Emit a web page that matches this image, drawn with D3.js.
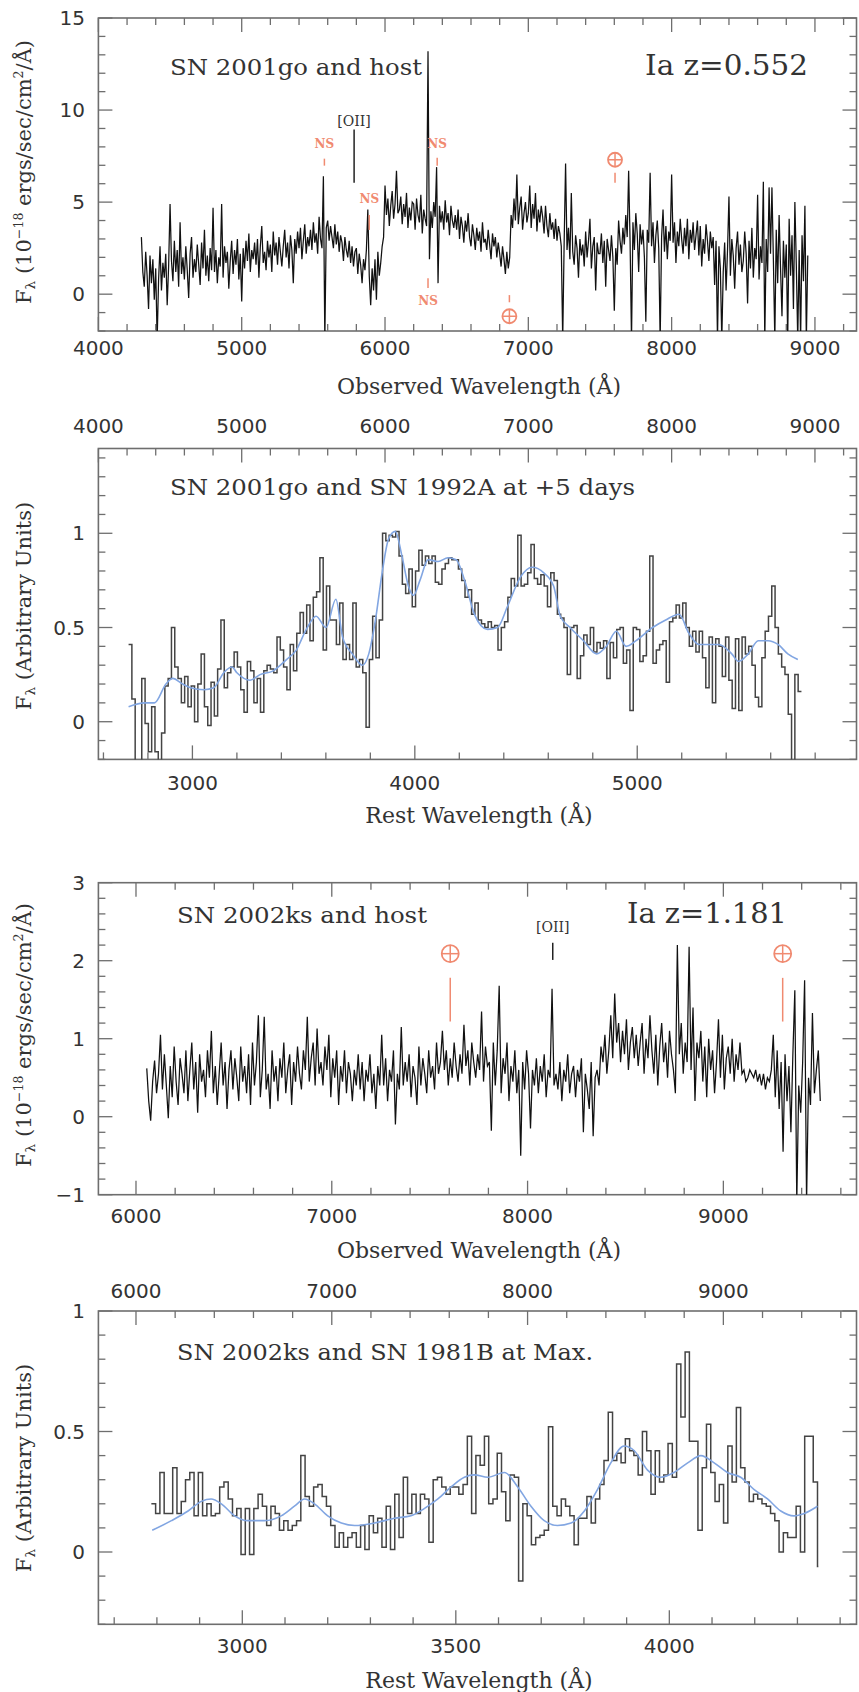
<!DOCTYPE html>
<html>
<head>
<meta charset="utf-8">
<script src="https://cdn.jsdelivr.net/npm/d3@7"></script>
<style>
  body { margin: 0; background: #fff; }
  svg text { fill: #333; }
</style>
</head>
<body>
<div id="chart"></div>
<script>
// ---------- data ----------

// panel 1: SN 2001go + host, observed frame, 10 A grid from 4300 A
const p1Start = 4300, p1Step = 10;
const p1Flux = [
  3.1, 1.2, 0.4, 2.3, 1.0, -0.8, 2.1, 0.6, 1.9, -0.3,
  1.4, -2.5, 0.8, 2.6, 0.2, 1.7, 0.9, 2.2, -0.6, 1.5,
  4.9, 1.8, 0.7, 2.9, 1.2, 2.4, 0.4, 3.9, 1.1, 2.0,
  0.8, 2.6, 1.3, -0.2, 2.2, 3.1, 0.9, 1.9, 1.2, 2.7,
  1.6, 0.5, 2.8, 1.4, 3.5, 1.0, 2.1, 0.7, 2.5, 1.3,
  4.7, 1.2, 2.4, 0.6, 2.0, 1.5, 4.9, 0.9, 2.6, 1.7,
  2.3, 0.3, 1.8, 2.9, 1.1, 2.4, 1.6, 3.0, 0.8, 2.2,
  -0.4, 2.5, 1.4, 2.9, 1.8, 3.3, 1.2, 2.4, 1.9, 2.8,
  1.6, 3.0, 0.9, 2.6, 3.7, 1.7, 2.3, 1.3, 2.9, 2.0,
  2.7, 1.2, 3.4, 2.1, 2.8, 1.6, 3.1, 2.3, 1.5, 2.6,
  3.5, 2.0, 2.8, 1.4, 3.2, 2.4, 0.6, 3.0, 2.2, 3.4,
  2.5, 3.6, 1.9, 2.9, 3.8, 2.2, 3.1, 2.6, 3.5, 2.4,
  3.9, 2.8, 3.3, 2.2, 4.2, 3.0, 2.5, 6.4, -2.5, 3.6,
  4.0, 2.9, 3.7, 3.1, 2.5, 3.8, 2.7, 3.4, 2.3, 3.2,
  2.8, 1.8, 3.1, 2.4, 2.0, 2.9, 1.7, 2.6, 1.5, 2.3,
  2.5, 1.1, 2.2, 1.6, 0.6, 1.9, 1.3, 2.4, 4.6, 1.0,
  -0.6, 1.4, 0.2, 1.9, -0.3, 2.3, 1.0, 1.7, 2.6, 3.1,
  5.9, 4.3, 5.2, 3.7, 4.8, 5.6, 4.1, 4.9, 6.7, 4.4,
  4.6, 5.3, 3.8, 4.9, 4.2, 5.5, 3.6, 4.7, 4.0, 5.0,
  4.9, 3.5, 5.2, 4.3, 3.9, 5.4, 3.3, 4.6, 4.1, 3.7,
  13.2, 1.9, 4.5, 3.6, 5.0, 4.2, 6.9, 0.6, 4.8, 3.9,
  4.5, 3.5, 5.1, 3.9, 4.4, 3.2, 4.8, 4.0, 3.6, 4.3,
  3.5, 4.6, 3.0, 4.2, 3.7, 2.8, 4.0, 3.4, 4.4, 3.1,
  2.6, 3.8, 3.2, 2.4, 3.6, 2.9, 3.4, 2.3, 3.9, 2.8,
  3.0, 2.4, 3.5, 2.7, 1.9, 3.3, 2.6, 3.1, 2.0, 2.8,
  2.2, 1.5, 2.6, 1.9, 1.1, 2.3, 1.4, 2.0, 4.3, 3.6,
  5.2, 4.0, 6.5, 3.8, 4.7, 5.3, 3.5, 4.4, 5.0, 3.9,
  4.4, 5.9, 3.6, 4.9, 4.1, 5.5, 3.4, 4.6, 3.9, 4.8,
  4.2, 3.3, 4.8, 3.7, 3.1, 4.4, 3.5, 3.9, 3.0, 4.1,
  2.9, 3.7, 3.3, 2.6, -2.5, 2.8, 7.1, 2.4, 3.6, 1.9,
  5.5, 2.3, 1.6, 3.2, 2.5, 0.9, 3.0, 2.1, 2.7, 1.5,
  3.4, 2.0, 2.9, 4.1, 1.4, 2.6, 3.1, 0.2, 2.8, 2.2,
  2.2, 3.3, 1.7, 2.9, 0.4, 3.0, 2.4, 1.8, 3.2, 2.0,
  -0.9, 2.5, 1.6, 4.0, 2.9, 2.2, 3.6, 2.7, 4.3, 3.1,
  6.7, 2.9, -2.5, 3.9, 2.4, 4.4, 3.3, 1.2, 3.8, 2.7,
  3.5, 2.0, -1.5, 3.5, 2.8, 6.6, 2.6, 3.9, 1.7, 3.2,
  4.0, 2.5, -2.5, 3.1, 4.6, 2.3, 3.7, 1.9, 3.4, 2.9,
  6.5, 2.8, 3.9, 1.7, 3.4, 2.6, 4.1, 3.0, 2.2, 3.6,
  2.6, 4.1, 1.9, 3.5, 2.8, 3.9, 2.4, 3.2, 4.0, 2.1,
  3.7, 1.5, 3.0, 2.2, 3.8, 2.9, 1.8, 3.4, 2.5, 3.1,
  0.5, 2.9, -2.5, 2.6, 1.4, -2.5, 1.2, 2.8, 0.2, 2.4,
  5.3, 1.0, 3.0, 2.1, 0.3, 2.5, 3.4, 1.6, 2.7, 1.2,
  1.8, 3.4, 2.2, -0.5, 2.9, 1.4, 3.6, 0.9, 2.5, 1.9,
  5.4, 0.8, 2.6, 1.7, 6.1, -2.5, 3.0, 1.2, 5.8, 2.2,
  5.8, 1.9, -2.5, 3.5, 0.6, 4.3, 1.4, -1.2, 2.9, 0.9,
  2.7, -2.5, 4.1, 1.0, 3.2, -0.8, 5.0, 1.6, -2.5, 2.4,
  -2.5, 3.2, 0.7, 4.8, -2.5, 2.1
];

// panel 2: binned SN 2001go (rest frame) and SN 1992A template
const p2BinStart = 2713, p2BinWidth = 14.83;
const p2Flux = [
  0.41, 0.12, -0.25, -0.25, 0.23, -0.01, -0.16, 0.08, -0.16, -0.25,
  -0.06, 0.19, 0.23, 0.50, 0.29, 0.23, 0.10, 0.24, 0.08, 0.19,
  0.00, 0.20, 0.36, 0.08, -0.02, 0.21, 0.03, 0.28, 0.54, 0.18,
  0.26, 0.29, 0.37, 0.29, 0.17, 0.05, 0.32, 0.27, 0.10, 0.23,
  0.05, 0.27, 0.30, 0.28, 0.26, 0.45, 0.38, 0.29, 0.17, 0.41,
  0.27, 0.47, 0.58, 0.47, 0.62, 0.43, 0.66, 0.69, 0.87, 0.38,
  0.72, 0.54, 0.54, 0.41, 0.63, 0.33, 0.41, 0.33, 0.63, 0.29,
  0.33, 0.26, -0.03, 0.33, 0.56, 0.34, 0.54, 1.00, 0.96, 0.99,
  0.98, 1.01, 0.88, 0.73, 0.68, 0.81, 0.61, 0.80, 0.91, 0.83,
  0.88, 0.84, 0.88, 0.74, 0.73, 0.81, 0.84, 0.87, 0.86, 0.86,
  0.81, 0.75, 0.66, 0.70, 0.57, 0.63, 0.54, 0.52, 0.50,
  0.53, 0.50, 0.51, 0.38, 0.50, 0.53, 0.66, 0.76, 0.72, 0.99,
  0.72, 0.73, 0.79, 0.94, 0.76, 0.73, 0.78, 0.72, 0.61, 0.79,
  0.75, 0.57, 0.55, 0.50, 0.25, 0.50, 0.51, 0.23, 0.35, 0.46,
  0.41, 0.50, 0.37, 0.42, 0.39, 0.43, 0.23, 0.42, 0.34, 0.49,
  0.50, 0.31, 0.38, 0.06, 0.50, 0.49, 0.32, 0.35, 0.48, 0.88,
  0.31, 0.38, 0.41, 0.43, 0.21, 0.53, 0.55, 0.62, 0.55, 0.63,
  0.50, 0.40, 0.48, 0.37, 0.48, 0.34, 0.18, 0.45, 0.10, 0.44,
  0.40, 0.24, 0.45, 0.22, 0.07, 0.44, 0.06, 0.45, 0.36, 0.40,
  0.30, 0.13, 0.08, 0.34, 0.48, 0.56, 0.72, 0.50, 0.36, 0.29,
  0.25, 0.04, -0.25, 0.25, 0.16
];
const p2TmplRest = [2713, 2785, 2829, 2881, 2911, 2956, 2992, 3052, 3096, 3141,
  3178, 3200, 3259, 3304, 3363, 3423, 3467, 3512, 3556, 3601, 3645, 3675, 3719,
  3764, 3793, 3823, 3853, 3882, 3912, 3942, 3971, 3994, 4023, 4060, 4105, 4149,
  4186, 4224, 4268, 4327, 4372, 4416, 4476, 4528, 4580, 4624, 4654, 4698, 4758,
  4817, 4861, 4906, 4950, 4995, 5069, 5128, 5188, 5232, 5277, 5366, 5425, 5455,
  5499, 5544, 5588, 5633, 5677, 5722];
const p2TmplFlux = [0.08, 0.10, 0.10, 0.20, 0.23, 0.20, 0.18, 0.17, 0.18, 0.26,
  0.29, 0.26, 0.22, 0.25, 0.27, 0.33, 0.38, 0.49, 0.56, 0.50, 0.65, 0.45, 0.36,
  0.30, 0.36, 0.54, 0.79, 0.97, 1.01, 0.88, 0.72, 0.67, 0.75, 0.86, 0.85, 0.87,
  0.86, 0.75, 0.57, 0.49, 0.50, 0.61, 0.77, 0.82, 0.79, 0.72, 0.56, 0.50, 0.43,
  0.36, 0.40, 0.48, 0.40, 0.43, 0.50, 0.54, 0.57, 0.47, 0.41, 0.41, 0.36, 0.32,
  0.36, 0.43, 0.43, 0.41, 0.36, 0.33];

// panel 3: SN 2002ks + host, observed frame, 10 A grid from 6055 A
const p3Start = 6055, p3Step = 10;
const p3Flux = [
  0.62, 0.20, -0.05, 0.45, 0.72, 0.30, 0.55, 1.05, 0.35, 0.80,
  0.40, -0.02, 0.65, 0.25, 0.90, 0.45, 0.15, 0.75, 0.55, 0.30,
  0.85, 0.20, 0.60, 0.95, 0.35, 0.70, 0.05, 0.80, 0.45, 0.60,
  0.25, 0.85, 0.50, 1.10, 0.30, 0.65, 0.15, 0.55, 0.95, 0.40,
  0.70, 0.10, 0.60, 0.85, 0.35, 0.75, 0.50, 0.20, 0.90, 0.45,
  0.65, 0.30, 0.80, 0.15, 0.95, 0.40, 0.70, 1.30, 0.25, 0.60,
  1.28, 0.35, 0.55, 0.10, 0.85, 0.45, 0.65, 0.20, 0.75, 0.50,
  0.95, 0.30, 0.60, 0.80, 0.15, 0.70, 0.45, 0.90, 0.55, 0.35,
  0.85, 0.60, 1.28, 0.45, 0.75, 0.95, 0.40, 1.13, 0.55, 0.70,
  0.40, 0.90, 0.60, 1.05, 0.25, 0.75, 0.50, 0.85, 0.15, 0.65,
  0.45, 0.85, 0.30, 0.70, 0.55, 0.20, 0.60, 0.40, 0.80, 0.35,
  0.70, 0.20, 0.60, 0.45, 0.80, 0.30, 0.55, 0.10, 0.65, 0.40,
  1.05, 0.40, 0.75, 0.20, 0.60, 0.45, 0.85, -0.10, 0.55, 0.35,
  1.15, 0.40, 0.70, 0.45, 0.80, 0.25, 0.65, 0.50, 0.15, 0.90,
  0.40, 0.75, 0.55, 0.30, 0.85, 0.50, 0.65, 0.35, 0.95, 0.55,
  0.70, 1.10, 0.60, 0.85, 0.40, 0.75, 0.50, 0.95, 0.65, 0.45,
  0.80, 0.55, 1.18, 0.65, 0.85, 0.40, 0.95, 0.70, 0.50, 0.80,
  0.60, 1.35, 0.45, 0.90, 0.65, 0.70, -0.18, 0.95, 0.40, 0.85,
  1.68, 0.30, 0.75, 0.55, 0.95, 0.20, 0.65, 0.45, 0.85, 0.30,
  0.60, -0.50, 0.70, 0.35, 0.85, 0.55, -0.15, 0.60, 0.40, 0.75,
  0.30, 0.65, 0.45, 0.80, 0.25, 0.60, 0.50, 1.64, 0.40, 0.55,
  0.35, 0.70, 0.20, 0.60, 0.45, 0.80, 0.30, 0.55, 0.65, 0.25,
  0.60, 0.45, 0.75, -0.20, 0.55, 0.35, 0.10, 0.70, -0.25, 0.50,
  0.60, 0.40, 0.90, 0.70, 1.05, 0.55, 0.85, 1.30, 0.75, 1.58,
  0.95, 1.20, 0.70, 1.10, 0.80, 1.25, 0.60, 0.95, 1.15, 0.75,
  1.05, 0.65, 0.95, 1.20, 0.55, 1.00, 0.75, 1.30, 0.85, 0.55,
  1.05, 0.40, 0.90, 1.20, 0.70, 0.95, 0.50, 1.10, 0.80, 0.60,
  0.30, 2.20, 0.80, 1.20, 0.55, 0.95, 0.70, 2.18, 0.60, 1.40,
  0.20, 0.95, 0.75, 1.10, 0.45, 0.90, 0.25, 1.00, 0.60, 0.85,
  0.30, 0.70, 1.25, 0.50, 1.05, 0.35, 0.75, 0.90, 0.55, 1.00,
  0.45, 0.80, 0.60, 0.95, 0.55, 0.60, 0.45, 0.50, 0.60, 0.55,
  0.50, 0.60, 0.45, 0.55, 0.40, 0.55, 0.35, 0.50, 0.45, 0.60,
  1.05, 0.25, 0.85, 0.10, 0.70, -0.45, 0.80, 0.20, 0.65, -0.20,
  0.80, 1.62, -1.10, 0.40, 0.05, 0.70, 1.75, -1.10, 0.50, 0.15,
  1.33, 0.30, 0.60, 0.85, 0.20
];

// panel 4: binned SN 2002ks (rest frame) and SN 1981B template
const p4BinStart = 2787, p4BinWidth = 10;
const p4Flux = [
  0.20, 0.16, 0.33, 0.16, 0.16, 0.35, 0.16, 0.21, 0.30, 0.33,
  0.15, 0.33, 0.15, 0.20, 0.15, 0.16, 0.27, 0.29, 0.22, 0.15,
  0.18, -0.01, 0.18, -0.01, 0.18, 0.24, 0.19, 0.11, 0.19, 0.16,
  0.09, 0.13, 0.09, 0.11, 0.13, 0.40, 0.23, 0.19, 0.27, 0.28,
  0.23, 0.19, 0.11, 0.02, 0.08, 0.02, 0.06, 0.08, 0.02, 0.11,
  0.01, 0.15, 0.08, 0.14, 0.02, 0.19, 0.01, 0.24, 0.06, 0.31,
  0.16, 0.24, 0.16, 0.24, 0.22, 0.04, 0.30, 0.31, 0.27, 0.24,
  0.27, 0.27, 0.24, 0.28, 0.48, 0.16, 0.40, 0.36, 0.48,
  0.20, 0.22, 0.41, 0.25, 0.13, 0.32, 0.31, -0.12, 0.20, 0.15,
  0.03, 0.06, 0.07, 0.09, 0.52, 0.19, 0.15, 0.22, 0.19, 0.15,
  0.03, 0.14, 0.14, 0.23, 0.12, 0.22, 0.28, 0.38, 0.58, 0.38,
  0.41, 0.37, 0.47, 0.42, 0.40, 0.32, 0.50, 0.42, 0.24, 0.42,
  0.29, 0.32, 0.45, 0.31, 0.78, 0.56, 0.83, 0.46, 0.46, 0.09,
  0.35, 0.53, 0.33, 0.21, 0.28, 0.12, 0.44, 0.29, 0.60, 0.35,
  0.29, 0.21, 0.24, 0.22, 0.20, 0.19, 0.16, 0.13, 0.00, 0.08,
  0.06, 0.06, 0.19, 0.00, 0.48, 0.48, 0.29, -0.06
];
const p4TmplRest = [2789, 2834, 2873, 2904, 2927, 2951, 2982, 3013, 3052, 3091,
  3122, 3146, 3169, 3200, 3232, 3263, 3309, 3356, 3395, 3426, 3458, 3489, 3520,
  3543, 3575, 3614, 3645, 3676, 3707, 3738, 3770, 3801, 3832, 3863, 3894, 3918,
  3949, 3980, 4011, 4043, 4074, 4105, 4136, 4167, 4198, 4230, 4261, 4292, 4316, 4347];
const p4TmplFlux = [0.09, 0.13, 0.17, 0.21, 0.22, 0.20, 0.15, 0.13, 0.13, 0.15,
  0.19, 0.22, 0.20, 0.15, 0.12, 0.11, 0.12, 0.14, 0.15, 0.18, 0.22, 0.27, 0.31,
  0.32, 0.31, 0.33, 0.27, 0.19, 0.13, 0.11, 0.12, 0.17, 0.26, 0.37, 0.44, 0.42,
  0.34, 0.31, 0.33, 0.37, 0.40, 0.37, 0.33, 0.31, 0.26, 0.22, 0.17, 0.15, 0.16, 0.19];

// tick labels
const p1XLabels = [4000, 5000, 6000, 7000, 8000, 9000];
const p1YLabels = [0, 5, 10, 15];
const p2YLabels = [0, 0.5, 1];
const p2RestLabels = [3000, 4000, 5000];
const p3XLabels = [6000, 7000, 8000, 9000];
const p3YLabels = [-1, 0, 1, 2, 3];
const p4YLabels = [0, 0.5, 1];
const p4RestLabels = [3000, 3500, 4000];

const z1 = 0.552, z2 = 1.181;

// ---------- drawing ----------
const svg = d3.select("#chart").append("svg")
    .attr("width", 859)
    .attr("height", 1692);

const frameLeft = 98.4, frameRight = 856.5;
const frameColor = "#6e6e6e";
const red = "#f08a70";
const blue = "#82a6e2";
const tickFont = "DejaVu Sans";
const textFont = "DejaVu Serif";

function fmt(v) { return String(v).replace("-", "\u2212"); }

function isMult(v, step) {
    return Math.abs(v / step - Math.round(v / step)) < 1e-6;
}

// ticks inside the frame; dir = +1 hangs down from the top edge, -1 rises from the bottom edge
function xTicks(g, scale, y, dir, minor, major) {
    let [d0, d1] = scale.domain();
    let vals = d3.range(Math.ceil(d0 / minor) * minor, d1, minor);
    g.selectAll(null).data(vals).enter().append("line")
        .attr("x1", d => scale(d)).attr("x2", d => scale(d))
        .attr("y1", y)
        .attr("y2", d => y + dir * (isMult(d, major) ? 14 : 7))
        .attr("stroke", frameColor).attr("stroke-width", 1.3);
}

function yTicks(g, scale, x, dir, minor, major) {
    let [d0, d1] = scale.domain();
    let vals = d3.range(Math.ceil(d0 / minor - 1e-9) * minor, d1 + 1e-9, minor);
    g.selectAll(null).data(vals).enter().append("line")
        .attr("y1", d => scale(d)).attr("y2", d => scale(d))
        .attr("x1", x)
        .attr("x2", d => x + dir * (isMult(d, major) ? 14 : 7))
        .attr("stroke", frameColor).attr("stroke-width", 1.3);
}

function makePanel(cfg) {
    let g = svg.append("g");
    let x = d3.scaleLinear().domain(cfg.obsDomain).range([frameLeft, frameRight]);
    let y = d3.scaleLinear().domain(cfg.yDomain).range([cfg.bottom, cfg.top]);

    g.append("clipPath").attr("id", cfg.id)
        .append("rect")
        .attr("x", frameLeft).attr("y", cfg.top)
        .attr("width", frameRight - frameLeft).attr("height", cfg.bottom - cfg.top);

    g.append("rect")
        .attr("x", frameLeft).attr("y", cfg.top)
        .attr("width", frameRight - frameLeft).attr("height", cfg.bottom - cfg.top)
        .attr("fill", "none").attr("stroke", frameColor).attr("stroke-width", 1.6);

    yTicks(g, y, frameLeft, 1, cfg.yMinor, cfg.yMajor);
    yTicks(g, y, frameRight, -1, cfg.yMinor, cfg.yMajor);

    g.selectAll(null).data(cfg.yLabels).enter().append("text")
        .attr("x", 85).attr("y", d => y(d) + 7)
        .attr("text-anchor", "end")
        .style("font-family", tickFont).style("font-size", "20px")
        .text(fmt);

    return { g, x, y };
}

function yLabel(g, cx, cy, parts, size) {
    let t = g.append("text")
        .attr("transform", `translate(${cx},${cy}) rotate(-90)`)
        .attr("text-anchor", "middle")
        .style("font-family", textFont).style("font-size", size + "px");
    parts.forEach(p => {
        let s = t.append("tspan").text(p.t);
        if (p.sub) s.attr("dy", 4).style("font-size", (size * 0.65) + "px");
        if (p.sup) s.attr("dy", -8).style("font-size", (size * 0.6) + "px");
        if (p.back) s.attr("dy", p.back);
    });
}

function axisTitle(g, cx, y, txt) {
    g.append("text").attr("x", cx).attr("y", y)
        .attr("text-anchor", "middle")
        .style("font-family", textFont).style("font-size", "22px")
        .text(txt);
}

function note(g, x0, y0, txt, size, len) {
    g.append("text").attr("x", x0).attr("y", y0)
        .attr("textLength", len).attr("lengthAdjust", "spacingAndGlyphs")
        .style("font-family", textFont).style("font-size", size + "px")
        .text(txt);
}

function xLabels(g, scale, vals, y) {
    g.selectAll(null).data(vals).enter().append("text")
        .attr("x", d => scale(d)).attr("y", y)
        .attr("text-anchor", "middle")
        .style("font-family", tickFont).style("font-size", "20px")
        .text(fmt);
}

function earth(g, cx, cy, r) {
    g.append("circle").attr("cx", cx).attr("cy", cy).attr("r", r)
        .attr("fill", "none").attr("stroke", red).attr("stroke-width", 1.8);
    g.append("line").attr("x1", cx - r).attr("x2", cx + r).attr("y1", cy).attr("y2", cy)
        .attr("stroke", red).attr("stroke-width", 1.5);
    g.append("line").attr("x1", cx).attr("x2", cx).attr("y1", cy - r).attr("y2", cy + r)
        .attr("stroke", red).attr("stroke-width", 1.5);
}

function marker(g, x, y0, y1, color) {
    g.append("line").attr("x1", x).attr("x2", x).attr("y1", y0).attr("y2", y1)
        .attr("stroke", color).attr("stroke-width", 1.5);
}

const fluxLabel = [
    { t: "F" }, { t: "\u03bb", sub: true }, { t: " (10", back: -4 },
    { t: "\u221218", sup: true }, { t: " ergs/sec/cm", back: 8 },
    { t: "2", sup: true }, { t: "/\u00c5)", back: 8 }
];
const arbLabel = [{ t: "F" }, { t: "\u03bb", sub: true }, { t: " (Arbitrary Units)", back: -4 }];

const stepLine = (x, y) => d3.line().x(d => x(d[0])).y(d => y(d[1])).curve(d3.curveStepAfter);
const plainLine = (x, y) => d3.line().x(d => x(d[0])).y(d => y(d[1]));
const smoothLine = (x, y) => d3.line().x(d => x(d[0])).y(d => y(d[1])).curve(d3.curveMonotoneX);

// ---- panel 1 ----
{
    let p = makePanel({ id: "c1", top: 18, bottom: 331, obsDomain: [4000, 9290],
        yDomain: [-2, 15], yMinor: 1, yMajor: 5, yLabels: p1YLabels });
    xTicks(p.g, p.x, 18, 1, 200, 1000);
    xTicks(p.g, p.x, 331, -1, 200, 1000);
    xLabels(p.g, p.x, p1XLabels, 355);
    axisTitle(p.g, 479, 394, "Observed Wavelength (\u00c5)");
    yLabel(p.g, 31, 172, fluxLabel, 21);

    let pts = p1Flux.map((v, i) => [p1Start + i * p1Step, v]);
    p.g.append("path").datum(pts)
        .attr("clip-path", "url(#c1)")
        .attr("d", plainLine(p.x, p.y))
        .attr("fill", "none").attr("stroke", "#111").attr("stroke-width", 1.25);

    note(p.g, 170, 75, "SN 2001go and host", 22, 252);
    note(p.g, 645, 75, "Ia  z=0.552", 27, 163);

    // [OII] host line
    p.g.append("text").attr("x", p.x(3727 * (1 + z1))).attr("y", p.y(9.16))
        .attr("text-anchor", "middle")
        .style("font-family", textFont).style("font-size", "14px").text("[OII]");
    marker(p.g, p.x(3727 * (1 + z1)), p.y(8.94), p.y(6.05), "#222");

    // night-sky residuals
    const ns = [[5577, 7.95, 7.36, 6.98], [5890, 4.96, 4.3, 3.49], [6364, 7.95, 7.41, 6.98]];
    ns.forEach(d => {
        p.g.append("text").attr("x", p.x(d[0])).attr("y", p.y(d[1]))
            .attr("text-anchor", "middle").style("fill", red)
            .style("font-family", textFont).style("font-size", "12px").style("font-weight", "bold")
            .text("NS");
        marker(p.g, p.x(d[0]), p.y(d[2]), p.y(d[3]), red);
    });
    p.g.append("text").attr("x", p.x(6300)).attr("y", p.y(-0.6))
        .attr("text-anchor", "middle").style("fill", red)
        .style("font-family", textFont).style("font-size", "12px").style("font-weight", "bold")
        .text("NS");
    marker(p.g, p.x(6300), p.y(0.87), p.y(0.33), red);

    // telluric bands
    earth(p.g, p.x(7605), p.y(7.3), 7);
    marker(p.g, p.x(7605), p.y(6.6), p.y(6.05), red);
    earth(p.g, p.x(6868), p.y(-1.2), 7);
    marker(p.g, p.x(6868), p.y(-0.05), p.y(-0.44), red);
}

// ---- panel 2 ----
{
    let p = makePanel({ id: "c2", top: 448.5, bottom: 759.4, obsDomain: [4000, 9290],
        yDomain: [-0.2, 1.45], yMinor: 0.1, yMajor: 0.5, yLabels: p2YLabels });
    let rest = d3.scaleLinear().domain([4000 / (1 + z1), 9290 / (1 + z1)]).range([frameLeft, frameRight]);
    xTicks(p.g, p.x, 448.5, 1, 200, 1000);
    xTicks(p.g, rest, 759.4, -1, 200, 1000);
    xLabels(p.g, p.x, p1XLabels, 433);
    xLabels(p.g, rest, p2RestLabels, 790);
    axisTitle(p.g, 479, 823, "Rest Wavelength (\u00c5)");
    yLabel(p.g, 31, 606, arbLabel, 21);

    let bins = p2Flux.map((v, i) => [p2BinStart + i * p2BinWidth, v]);
    bins.push([p2BinStart + p2Flux.length * p2BinWidth, p2Flux[p2Flux.length - 1]]);
    p.g.append("path").datum(bins)
        .attr("clip-path", "url(#c2)")
        .attr("d", stepLine(rest, p.y))
        .attr("fill", "none").attr("stroke", "#444").attr("stroke-width", 1.5);

    p.g.append("path").datum(p2TmplRest.map((r, i) => [r, p2TmplFlux[i]]))
        .attr("clip-path", "url(#c2)")
        .attr("d", smoothLine(rest, p.y))
        .attr("fill", "none").attr("stroke", blue).attr("stroke-width", 1.6);

    note(p.g, 170, 495, "SN 2001go and SN 1992A at +5 days", 22, 465);
}

// ---- panel 3 ----
{
    let p = makePanel({ id: "c3", top: 882.7, bottom: 1194.7, obsDomain: [5808, 9680],
        yDomain: [-1, 3], yMinor: 0.2, yMajor: 1, yLabels: p3YLabels });
    xTicks(p.g, p.x, 882.7, 1, 200, 1000);
    xTicks(p.g, p.x, 1194.7, -1, 200, 1000);
    xLabels(p.g, p.x, p3XLabels, 1223);
    axisTitle(p.g, 479, 1258, "Observed Wavelength (\u00c5)");
    yLabel(p.g, 31, 1035, fluxLabel, 21);

    let pts = p3Flux.map((v, i) => [p3Start + i * p3Step, v]);
    p.g.append("path").datum(pts)
        .attr("clip-path", "url(#c3)")
        .attr("d", plainLine(p.x, p.y))
        .attr("fill", "none").attr("stroke", "#111").attr("stroke-width", 1.25);

    note(p.g, 177, 923, "SN 2002ks and host", 22, 250);
    note(p.g, 627, 923, "Ia  z=1.181", 27, 160);

    p.g.append("text").attr("x", p.x(3727 * (1 + z2))).attr("y", p.y(2.37))
        .attr("text-anchor", "middle")
        .style("font-family", textFont).style("font-size", "14px").text("[OII]");
    marker(p.g, p.x(3727 * (1 + z2)), p.y(2.23), p.y(2.01), "#222");

    [7605, 9303].forEach(w => {
        earth(p.g, p.x(w), p.y(2.09), 8.5);
        marker(p.g, p.x(w), p.y(1.78), p.y(1.22), red);
    });
}

// ---- panel 4 ----
{
    let p = makePanel({ id: "c4", top: 1311, bottom: 1624.3, obsDomain: [5808, 9680],
        yDomain: [-0.3, 1], yMinor: 0.1, yMajor: 0.5, yLabels: p4YLabels });
    let rest = d3.scaleLinear().domain([5808 / (1 + z2), 9680 / (1 + z2)]).range([frameLeft, frameRight]);
    xTicks(p.g, p.x, 1311, 1, 200, 1000);
    xTicks(p.g, rest, 1624.3, -1, 100, 500);
    xLabels(p.g, p.x, p3XLabels, 1298);
    xLabels(p.g, rest, p4RestLabels, 1653);
    axisTitle(p.g, 479, 1688, "Rest Wavelength (\u00c5)");
    yLabel(p.g, 31, 1468, arbLabel, 21);

    let bins = p4Flux.map((v, i) => [p4BinStart + i * p4BinWidth, v]);
    bins.push([p4BinStart + p4Flux.length * p4BinWidth - 8, p4Flux[p4Flux.length - 1]]);
    p.g.append("path").datum(bins)
        .attr("clip-path", "url(#c4)")
        .attr("d", stepLine(rest, p.y))
        .attr("fill", "none").attr("stroke", "#444").attr("stroke-width", 1.5);

    p.g.append("path").datum(p4TmplRest.map((r, i) => [r, p4TmplFlux[i]]))
        .attr("clip-path", "url(#c4)")
        .attr("d", smoothLine(rest, p.y))
        .attr("fill", "none").attr("stroke", blue).attr("stroke-width", 1.6);

    note(p.g, 177, 1360, "SN 2002ks and SN 1981B at Max.", 22, 416);
}
</script>
</body>
</html>
